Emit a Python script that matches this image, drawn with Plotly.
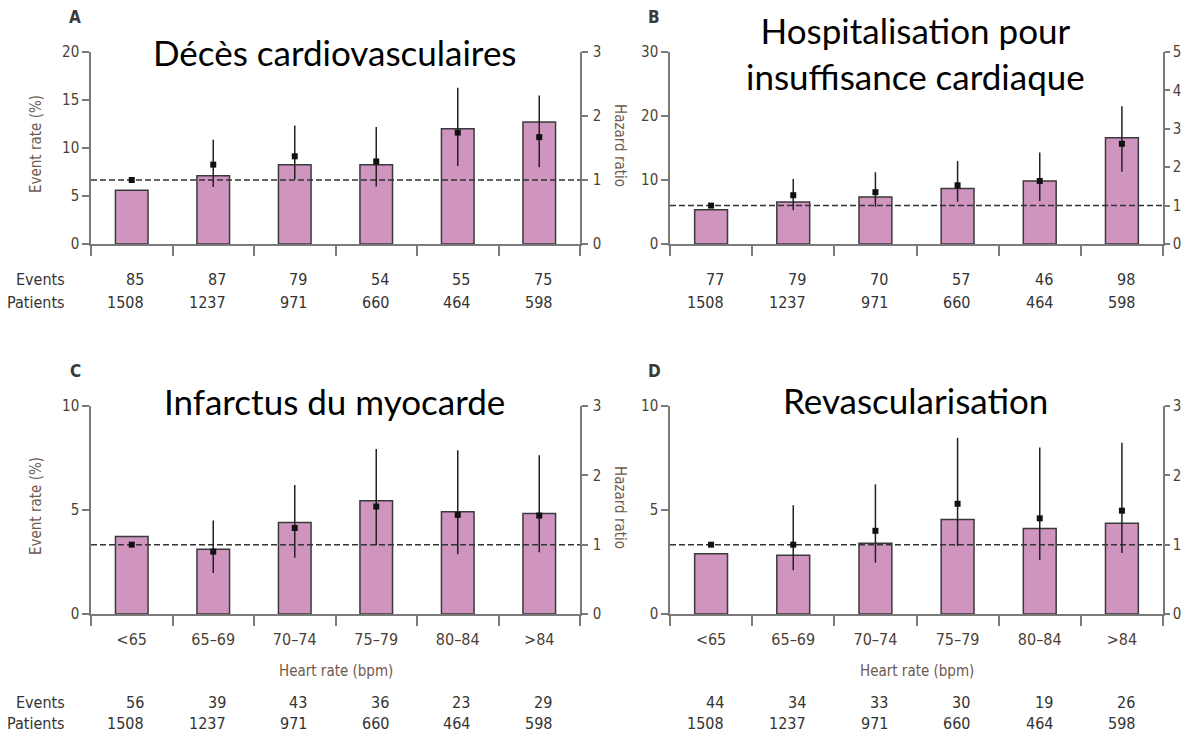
import plotly.graph_objects as go

# page offset of the figure inside the browser (default body margin)
OFF = 8
W, H = 1192 - 2 * OFF, 741 - 2 * OFF

categories = ["<65", "65–69", "70–74", "75–79", "80–84", ">84"]
patients = [1508, 1237, 971, 660, 464, 598]

# Panel A: Décès cardiovasculaires
a_rate = [5.6, 7.1, 8.25, 8.25, 12.0, 12.7]
a_hr = [1.0, 1.24, 1.37, 1.29, 1.74, 1.67]
a_hr_hi = [1.0, 1.63, 1.85, 1.83, 2.44, 2.32]
a_hr_lo = [1.0, 0.89, 1.01, 0.90, 1.22, 1.20]
a_events = [85, 87, 79, 54, 55, 75]

# Panel B: Hospitalisation pour insuffisance cardiaque
b_rate = [5.36, 6.55, 7.33, 8.68, 9.83, 16.6]
b_hr = [1.0, 1.27, 1.35, 1.53, 1.64, 2.61]
b_hr_hi = [1.0, 1.69, 1.87, 2.16, 2.38, 3.59]
b_hr_lo = [1.0, 0.88, 0.97, 1.10, 1.12, 1.88]
b_events = [77, 79, 70, 57, 46, 98]

# Panel C: Infarctus du myocarde
c_rate = [3.72, 3.11, 4.40, 5.44, 4.91, 4.83]
c_hr = [1.0, 0.90, 1.24, 1.55, 1.43, 1.42]
c_hr_hi = [1.0, 1.35, 1.86, 2.38, 2.36, 2.29]
c_hr_lo = [1.0, 0.59, 0.81, 0.99, 0.86, 0.89]
c_events = [56, 39, 43, 36, 23, 29]

# Panel D: Revascularisation
d_rate = [2.90, 2.82, 3.40, 4.54, 4.11, 4.36]
d_hr = [1.0, 1.0, 1.20, 1.59, 1.38, 1.49]
d_hr_hi = [1.0, 1.57, 1.87, 2.54, 2.40, 2.47]
d_hr_lo = [1.0, 0.63, 0.74, 0.98, 0.78, 0.88]
d_events = [44, 34, 33, 30, 19, 26]

hr_reference = 1

panels = [
    dict(letter="A", title="Décès cardiovasculaires", rate=a_rate, hr=a_hr, hi=a_hr_hi, lo=a_hr_lo,
         events=a_events, ymax=20, ydt=5, rmax=3, x0=91, x1=580, y0=52, y1=244,
         title_y=52, left_title=True, right_title=True, cat_labels=False, row_labels=True,
         ev_y=280, pa_y=303, edge=False),
    dict(letter="B", title="Hospitalisation pour<br>insuffisance cardiaque", rate=b_rate, hr=b_hr, hi=b_hr_hi,
         lo=b_hr_lo, events=b_events, ymax=30, ydt=10, rmax=5, x0=670, x1=1163, y0=52, y1=244,
         title_y=53, left_title=False, right_title=False, cat_labels=False, row_labels=False,
         ev_y=280, pa_y=303, edge=True),
    dict(letter="C", title="Infarctus du myocarde", rate=c_rate, hr=c_hr, hi=c_hr_hi, lo=c_hr_lo,
         events=c_events, ymax=10, ydt=5, rmax=3, x0=91, x1=580, y0=406, y1=614,
         title_y=401, left_title=True, right_title=True, cat_labels=True, row_labels=True,
         ev_y=702, pa_y=723, edge=False),
    dict(letter="D", title="Revascularisation", rate=d_rate, hr=d_hr, hi=d_hr_hi, lo=d_hr_lo,
         events=d_events, ymax=10, ydt=5, rmax=3, x0=670, x1=1163, y0=406, y1=614,
         title_y=400, left_title=False, right_title=False, cat_labels=True, row_labels=False,
         ev_y=702, pa_y=723, edge=True),
]

FONT = "Liberation Sans Narrow, DejaVu Sans Condensed, Arial Narrow, Lato, sans-serif"
TITLE_FONT = "Lato, Open Sans, sans-serif"
TICK_COL = "#4d3f36"
LAB_COL = "#6e5a4e"
AX_COL = "#7a7a7a"
BAR_COL = "#cf95bf"

fig = go.Figure()
layout = dict(width=W, height=H, margin=dict(l=0, r=0, t=0, b=0, pad=0, autoexpand=False),
              paper_bgcolor="white", plot_bgcolor="rgba(0,0,0,0)",
              showlegend=False, font=dict(family=FONT, size=14, color=TICK_COL))
annotations = []


def px(x):
    return (x - OFF) / W


def py(y):
    return 1 - (y - OFF) / H


xs = list(range(len(categories)))

for i, p in enumerate(panels):
    n = i + 1
    xa = f"x{n}"
    ya = f"y{n}"
    yr = f"y{n + 4}"
    xkey = "xaxis" if n == 1 else f"xaxis{n}"
    ykey = "yaxis" if n == 1 else f"yaxis{n}"
    rkey = f"yaxis{n + 4}"
    dom_x = [px(p["x0"]), px(p["x1"])]
    dom_y = [py(p["y1"]), py(p["y0"])]

    layout[xkey] = dict(domain=dom_x, anchor=ya, range=[-0.5, 5.5], showgrid=False, zeroline=False,
                        showline=True, linecolor=AX_COL, linewidth=1.5,
                        tickvals=xs, ticktext=categories if p["cat_labels"] else [""] * 6,
                        ticks="", ticklabelstandoff=10 if p["cat_labels"] else 0,
                        tickfont=dict(size=16, color=TICK_COL),
                        minor=dict(tickvals=[k - 0.5 for k in range(7)], ticks="outside",
                                   ticklen=10, tickwidth=1.5, tickcolor=AX_COL))
    layout[ykey] = dict(domain=dom_y, anchor=xa, range=[0, p["ymax"]], dtick=p["ydt"], showgrid=False,
                        zeroline=False, showline=True, linecolor=AX_COL, linewidth=1.5,
                        ticks="outside", ticklen=7, tickwidth=1.5, tickcolor=AX_COL,
                        tickfont=dict(size=15, color=TICK_COL))
    layout[rkey] = dict(domain=dom_y, anchor=xa, overlaying=ya, side="right", range=[0, p["rmax"]],
                        dtick=1, showgrid=False, zeroline=False, showline=True, linecolor=AX_COL,
                        linewidth=1.5, ticks="outside", ticklen=5 if p["edge"] else 6,
                        tickwidth=1.5, tickcolor=AX_COL,
                        ticklabelstandoff=0 if p["edge"] else 2,
                        tickfont=dict(size=15, color=TICK_COL))

    fig.add_trace(go.Bar(x=xs, y=p["rate"], width=0.4, marker=dict(color=BAR_COL,
                         line=dict(color="#3a3a3a", width=1.5)), xaxis=xa, yaxis=ya, hoverinfo="skip"))
    fig.add_trace(go.Scatter(x=[-0.5, 5.5], y=[hr_reference, hr_reference], mode="lines",
                             line=dict(color="#333333", width=1.5, dash="6px,3px"),
                             xaxis=xa, yaxis=yr, hoverinfo="skip"))
    fig.add_trace(go.Scatter(x=xs, y=p["hr"], mode="markers",
                             marker=dict(symbol="square", size=6, color="#111111"),
                             error_y=dict(type="data", symmetric=False,
                                          array=[h - m for h, m in zip(p["hi"], p["hr"])],
                                          arrayminus=[m - l for m, l in zip(p["hr"], p["lo"])],
                                          thickness=1.5, width=0, color="#222222"),
                             xaxis=xa, yaxis=yr, hoverinfo="skip"))

    cx = (p["x0"] + p["x1"]) / 2
    # panel letter
    annotations.append(dict(text=f"<b>{p['letter']}</b>", x=px(p["x0"] - 16), y=py(p["y0"] - 35),
                            xref="paper", yref="paper", showarrow=False, xanchor="center",
                            yanchor="middle", font=dict(size=17, color="#3a3a3a")))
    # big title
    annotations.append(dict(text=p["title"], x=px(cx - 1), y=py(p["title_y"]),
                            xref="paper", yref="paper", showarrow=False, xanchor="center",
                            yanchor="middle", font=dict(family=TITLE_FONT, size=35, color="black")))
    if p["left_title"]:
        annotations.append(dict(text="Event rate (%)", x=px(36), y=py((p["y0"] + p["y1"]) / 2 - 4),
                                xref="paper", yref="paper", showarrow=False, textangle=-90,
                                xanchor="center", yanchor="middle", font=dict(size=15, color=LAB_COL)))
    if p["right_title"]:
        annotations.append(dict(text="Hazard ratio", x=px(620), y=py((p["y0"] + p["y1"]) / 2 - 3),
                                xref="paper", yref="paper", showarrow=False, textangle=90,
                                xanchor="center", yanchor="middle", font=dict(size=15, color=LAB_COL)))
    if p["cat_labels"]:
        annotations.append(dict(text="Heart rate (bpm)", x=px(cx), y=py(p["y1"] + 57),
                                xref="paper", yref="paper", showarrow=False, xanchor="center",
                                yanchor="middle", font=dict(size=15, color=LAB_COL)))
    if p["row_labels"]:
        for lab, yy in (("Events", p["ev_y"]), ("Patients", p["pa_y"])):
            annotations.append(dict(text=lab, x=px(67), y=py(yy), xref="paper", yref="paper",
                                    showarrow=False, xanchor="right", yanchor="middle",
                                    font=dict(size=16, color="#333333")))
    for k in xs:
        annotations.append(dict(text=str(p["events"][k]), x=k + 0.18, y=py(p["ev_y"]), xref=xa,
                                yref="paper", showarrow=False, xanchor="right", yanchor="middle",
                                font=dict(size=16, color="#333333")))
        annotations.append(dict(text=str(patients[k]), x=k + 0.18, y=py(p["pa_y"]), xref=xa,
                                yref="paper", showarrow=False, xanchor="right", yanchor="middle",
                                font=dict(size=16, color="#333333")))

layout["annotations"] = annotations
fig.update_layout(**layout)
fig.write_html("out.html")
